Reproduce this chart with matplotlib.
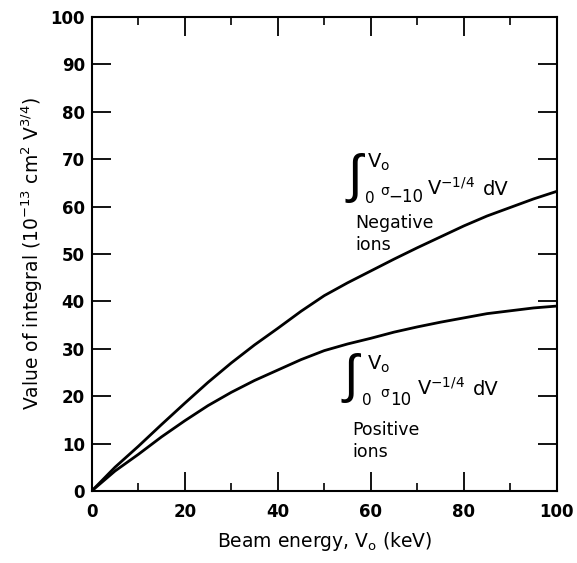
import matplotlib
matplotlib.use("Agg")
import matplotlib.pyplot as plt
from matplotlib.ticker import MultipleLocator

plt.rcParams['font.family'] = ['DejaVu Sans']
plt.rcParams['mathtext.fontset'] = 'dejavusans'

energy_keV = [0, 5, 10, 15, 20, 25, 30, 35, 40, 45, 50, 55, 60, 65, 70, 75, 80, 85, 90, 95, 100]
negative_ions = [0, 5.0, 9.4, 14.0, 18.5, 22.9, 27.0, 30.8, 34.3, 37.9, 41.2, 43.9, 46.4, 48.9,
                 51.3, 53.6, 55.9, 58.0, 59.8, 61.6, 63.2]
positive_ions = [0, 4.2, 7.7, 11.4, 14.8, 18.0, 20.8, 23.3, 25.5, 27.7, 29.6, 31.0, 32.2, 33.5,
                 34.6, 35.6, 36.5, 37.4, 38.0, 38.6, 39.0]

x_ticks = [0, 20, 40, 60, 80, 100]
y_ticks = [0, 10, 20, 30, 40, 50, 60, 70, 80, 90, 100]

fig = plt.figure(figsize=(5.77, 5.63), dpi=100)
ax = fig.add_axes([0.159, 0.128, 0.806, 0.842])

ax.plot(energy_keV, negative_ions, color='black', lw=2.0)
ax.plot(energy_keV, positive_ions, color='black', lw=2.0)

ax.set_xlim(0, 100)
ax.set_ylim(0, 100)
ax.set_xticks(x_ticks)
ax.set_yticks(y_ticks)
ax.xaxis.set_minor_locator(MultipleLocator(10))
ax.tick_params(axis='both', which='major', direction='in', length=14, width=1.3,
               top=True, right=True, labelsize=12)
ax.tick_params(axis='x', which='major', pad=9)
ax.tick_params(axis='y', which='major', pad=5)
ax.tick_params(axis='x', which='minor', direction='in', length=6, width=1.2, top=True)
for lab in ax.get_xticklabels() + ax.get_yticklabels():
    lab.set_fontweight('bold')
for s in ax.spines.values():
    s.set_linewidth(1.5)

ax.set_xlabel(r'Beam energy, V$_\mathrm{o}$ (keV)', fontsize=13.5, labelpad=6)
ax.set_ylabel(r'Value of integral (10$^{-13}$ cm$^2$ V$^{3/4}$)', fontsize=13.5, labelpad=4)

int_font = ['Liberation Sans', 'DejaVu Sans']

# Negative-ion integral label
ax.text(56.6, 66.1, '\u222b', fontsize=38, ha='center', va='center', family=int_font)
ax.text(59.1, 68.1, r'V$_\mathrm{o}$', fontsize=14, ha='left', va='baseline')
ax.text(58.7, 60.8, '0', fontsize=11, ha='left', va='baseline')
ax.text(62.0, 62.4, 'σ', fontsize=10, ha='left', va='baseline')
ax.text(63.7, 61.0, '\u221210', fontsize=12, ha='left', va='baseline')
ax.text(72.0, 62.4, r'V$^{-1/4}$', fontsize=14, ha='left', va='baseline')
ax.text(84.1, 62.4, 'dV', fontsize=14, ha='left', va='baseline')
ax.text(56.6, 55.5, 'Negative', fontsize=12.5, ha='left', va='baseline')
ax.text(56.6, 50.8, 'ions', fontsize=12.5, ha='left', va='baseline')

# Positive-ion integral label
ax.text(55.8, 23.8, '\u222b', fontsize=38, ha='center', va='center', family=int_font)
ax.text(59.1, 25.5, r'V$_\mathrm{o}$', fontsize=14, ha='left', va='baseline')
ax.text(58.1, 18.1, '0', fontsize=11, ha='left', va='baseline')
ax.text(62.0, 19.8, 'σ', fontsize=10, ha='left', va='baseline')
ax.text(64.1, 18.1, '10', fontsize=12, ha='left', va='baseline')
ax.text(69.9, 20.3, r'V$^{-1/4}$', fontsize=14, ha='left', va='baseline')
ax.text(81.9, 20.3, 'dV', fontsize=14, ha='left', va='baseline')
ax.text(56.1, 11.8, 'Positive', fontsize=12.5, ha='left', va='baseline')
ax.text(56.1, 7.2, 'ions', fontsize=12.5, ha='left', va='baseline')

fig.savefig('out.png', dpi=100)
